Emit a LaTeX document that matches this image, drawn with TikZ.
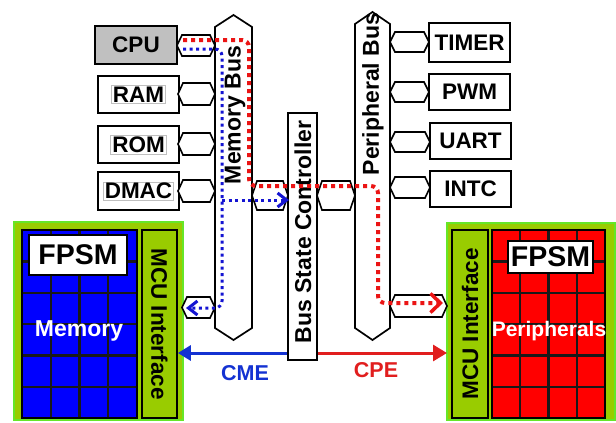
\documentclass[tikz,border=0pt]{standalone}
\usepackage{fontspec}
\setmainfont{Liberation Sans}
\usetikzlibrary{arrows.meta}
\definecolor{mcugreen}{RGB}{153,204,0}
\definecolor{edgegreen}{RGB}{102,230,40}
\definecolor{memblue}{RGB}{0,0,255}
\definecolor{perred}{RGB}{255,0,0}
\definecolor{dotred}{RGB}{235,20,20}
\definecolor{dotblue}{RGB}{20,20,210}
\definecolor{cmeblue}{RGB}{20,50,210}
\definecolor{cpered}{RGB}{225,30,30}
\definecolor{cpugray}{RGB}{192,192,192}
\tikzset{
  unitbox/.style={draw, line width=2.1pt, inner sep=0pt, minimum width=81pt, minimum height=37pt},
  lbl/.style={draw=black!25, line width=0.6pt, inner sep=1.5pt},
  hexline/.style={draw, fill=white, line width=1.6pt, line join=miter},
  busline/.style={draw, fill=white, line width=1.7pt},
  buslabel/.style={rotate=90, font=\bfseries\fontsize{23}{23}\selectfont},
  mculabel/.style={font=\bfseries\fontsize{22.5}{22.5}\selectfont},
  reddots/.style={draw=dotred, line width=4pt, dash pattern=on 4pt off 4pt, rounded corners=7pt},
  bluedots/.style={draw=dotblue, line width=3pt, dash pattern=on 3pt off 3.5pt, rounded corners=7pt},
  gridline/.style={line width=2.4pt, draw=black!90},
  fpsmbox/.style={draw, fill=white, line width=2.2pt, inner sep=0pt, font=\bfseries\fontsize{28.5}{28.5}\selectfont},
  mcubar/.style={draw, fill=mcugreen, line width=1.7pt, inner sep=0pt, minimum width=35pt, minimum height=188pt},
}
\newcommand\hexc[4]{\draw[hexline] (#1,{(#3+#4)/2}) -- ({#1+5},#3) -- ({#2-5},#3) -- (#2,{(#3+#4)/2}) -- ({#2-5},#4) -- ({#1+5},#4) -- cycle;}
\begin{document}
\begin{tikzpicture}[x=1pt,y=-1pt,font=\bfseries\fontsize{22.5}{22.5}\selectfont]
\useasboundingbox (0,0) rectangle (616,423);

% ---------- buses ----------
\draw[busline] (215,27) -- (233.5,15) -- (252,27) -- (252,328) -- (233.5,340) -- (215,328) -- cycle;
\node[buslabel] (membus) at (235,115) {Memory Bus};
\draw[busline] (355,24) -- (372.5,12) -- (390,24) -- (390,328) -- (372.5,340) -- (355,328) -- cycle;
\node[buslabel] (perbus) at (373,94) {Peripheral Bus};
\node[draw, fill=white, line width=1.7pt, inner sep=0pt, minimum width=29pt, minimum height=247pt] (bsc) at (302.5,236.5) {};
\node[buslabel] (bsclabel) at (303,232) {Bus State Controller};

% ---------- left units ----------
\node[unitbox, fill=cpugray, minimum width=82pt, minimum height=38pt] (cpu) at (136,45) {CPU};
\node[unitbox] (ram) at (138.5,94.5) {};
\node[lbl] (ramt) at (ram) {RAM};
\node[unitbox] (rom) at (138.5,144.5) {};
\node[lbl] (romt) at (rom) {ROM};
\node[unitbox, minimum height=38pt] (dmac) at (138.5,191) {};
\node[lbl, inner sep=1pt] (dmact) at (dmac) {DMAC};

\hexc{177}{215}{35}{56}
\hexc{178}{215}{83}{105}
\hexc{178}{215}{133}{155}
\hexc{178}{215}{180}{202}

% ---------- right units ----------
\node[unitbox, minimum height=39pt] (timer) at (469.5,42.5) {TIMER};
\node[unitbox, minimum height=36pt] (pwm) at (469.5,92) {PWM};
\node[unitbox, minimum height=36pt] (uart) at (470.5,141) {UART};
\node[unitbox, minimum height=36pt] (intc) at (470.5,189) {INTC};

\hexc{390}{429}{32}{52}
\hexc{390}{429}{82}{102}
\hexc{390}{430}{132}{152}
\hexc{390}{430}{177}{198}

% middle connectors
\hexc{252}{288}{181}{210}
\hexc{317}{355}{181}{210}

% ---------- left block ----------
\draw[fill=mcugreen, draw=edgegreen, line width=2pt] (14,222) rectangle (183,420);
\fill[memblue] (22,230) rectangle (137,418);
\foreach \gx in {50.75,79.5,108.25} \draw[gridline] (\gx,230) -- (\gx,418);
\foreach \gy in {261.3,292.7,324,355.3,386.7} \draw[gridline] (22,\gy) -- (137,\gy);
\draw[line width=2.4pt] (22,230) rectangle (137,418);
\node[mcubar] (mcuL) at (159.5,324) {};
\node[mculabel, rotate=-90] (mcuLt) at (mcuL) {MCU Interface};
\node[fpsmbox, minimum width=98pt, minimum height=40pt] (fpsmL) at (78,255) {FPSM};
\node[text=white, font=\bfseries\fontsize{23}{23}\selectfont] (memt) at (79,331) {Memory};

% ---------- right block ----------
\draw[fill=mcugreen, draw=edgegreen, line width=2pt] (447,223) rectangle (615,420);
\fill[perred] (492,230) rectangle (605,418);
\foreach \gx in {520.25,548.5,576.75} \draw[gridline] (\gx,230) -- (\gx,418);
\foreach \gy in {261.3,292.7,324,355.3,386.7} \draw[gridline] (492,\gy) -- (605,\gy);
\draw[line width=2.4pt] (492,230) rectangle (605,418);
\node[mcubar, minimum width=36pt] (mcuR) at (470,324) {};
\node[mculabel, rotate=90] (mcuRt) at (mcuR) {MCU Interface};
\node[fpsmbox, minimum width=85pt, minimum height=32pt] (fpsmR) at (550.5,257) {FPSM};
\node[text=white, font=\bfseries\fontsize{21}{21}\selectfont] (pert) at (549,331) {Peripherals};

% bottom connectors
\hexc{182}{215}{297}{318}
\hexc{390}{447}{295}{317}

% ---------- CME / CPE ----------
\coordinate (ey) at (0,353);
\draw[cmeblue, line width=3pt, -{Triangle[length=13pt,width=15pt]}] (bsc.west |- ey) -- (mcuL.east |- ey);
\node[text=cmeblue, font=\bfseries\fontsize{21.5}{21.5}\selectfont] (cme) at (245,373) {CME};
\coordinate (er) at (447,353);
\draw[cpered, line width=3pt, -{Triangle[length=14pt,width=16pt]}] (bsc.east |- ey) -- (er);
\node[text=cpered, font=\bfseries\fontsize{21.5}{21.5}\selectfont] (cpe) at (376,370) {CPE};

% ---------- dotted access paths ----------
\draw[reddots, -{Straight Barb[length=10pt,width=19pt,line width=3.5pt]}] (183,40) -- (249,40) -- (249,186) -- (378,186) -- (378,303) -- (443,303);
\draw[bluedots, -{Straight Barb[length=9pt,width=14pt,line width=3pt]}] (183,49) -- (222,49) -- (222,308) -- (186,308);
\draw[bluedots, -{Straight Barb[length=9pt,width=14pt,line width=3pt]}] (222,200) -- (289,200);
\end{tikzpicture}
\end{document}
